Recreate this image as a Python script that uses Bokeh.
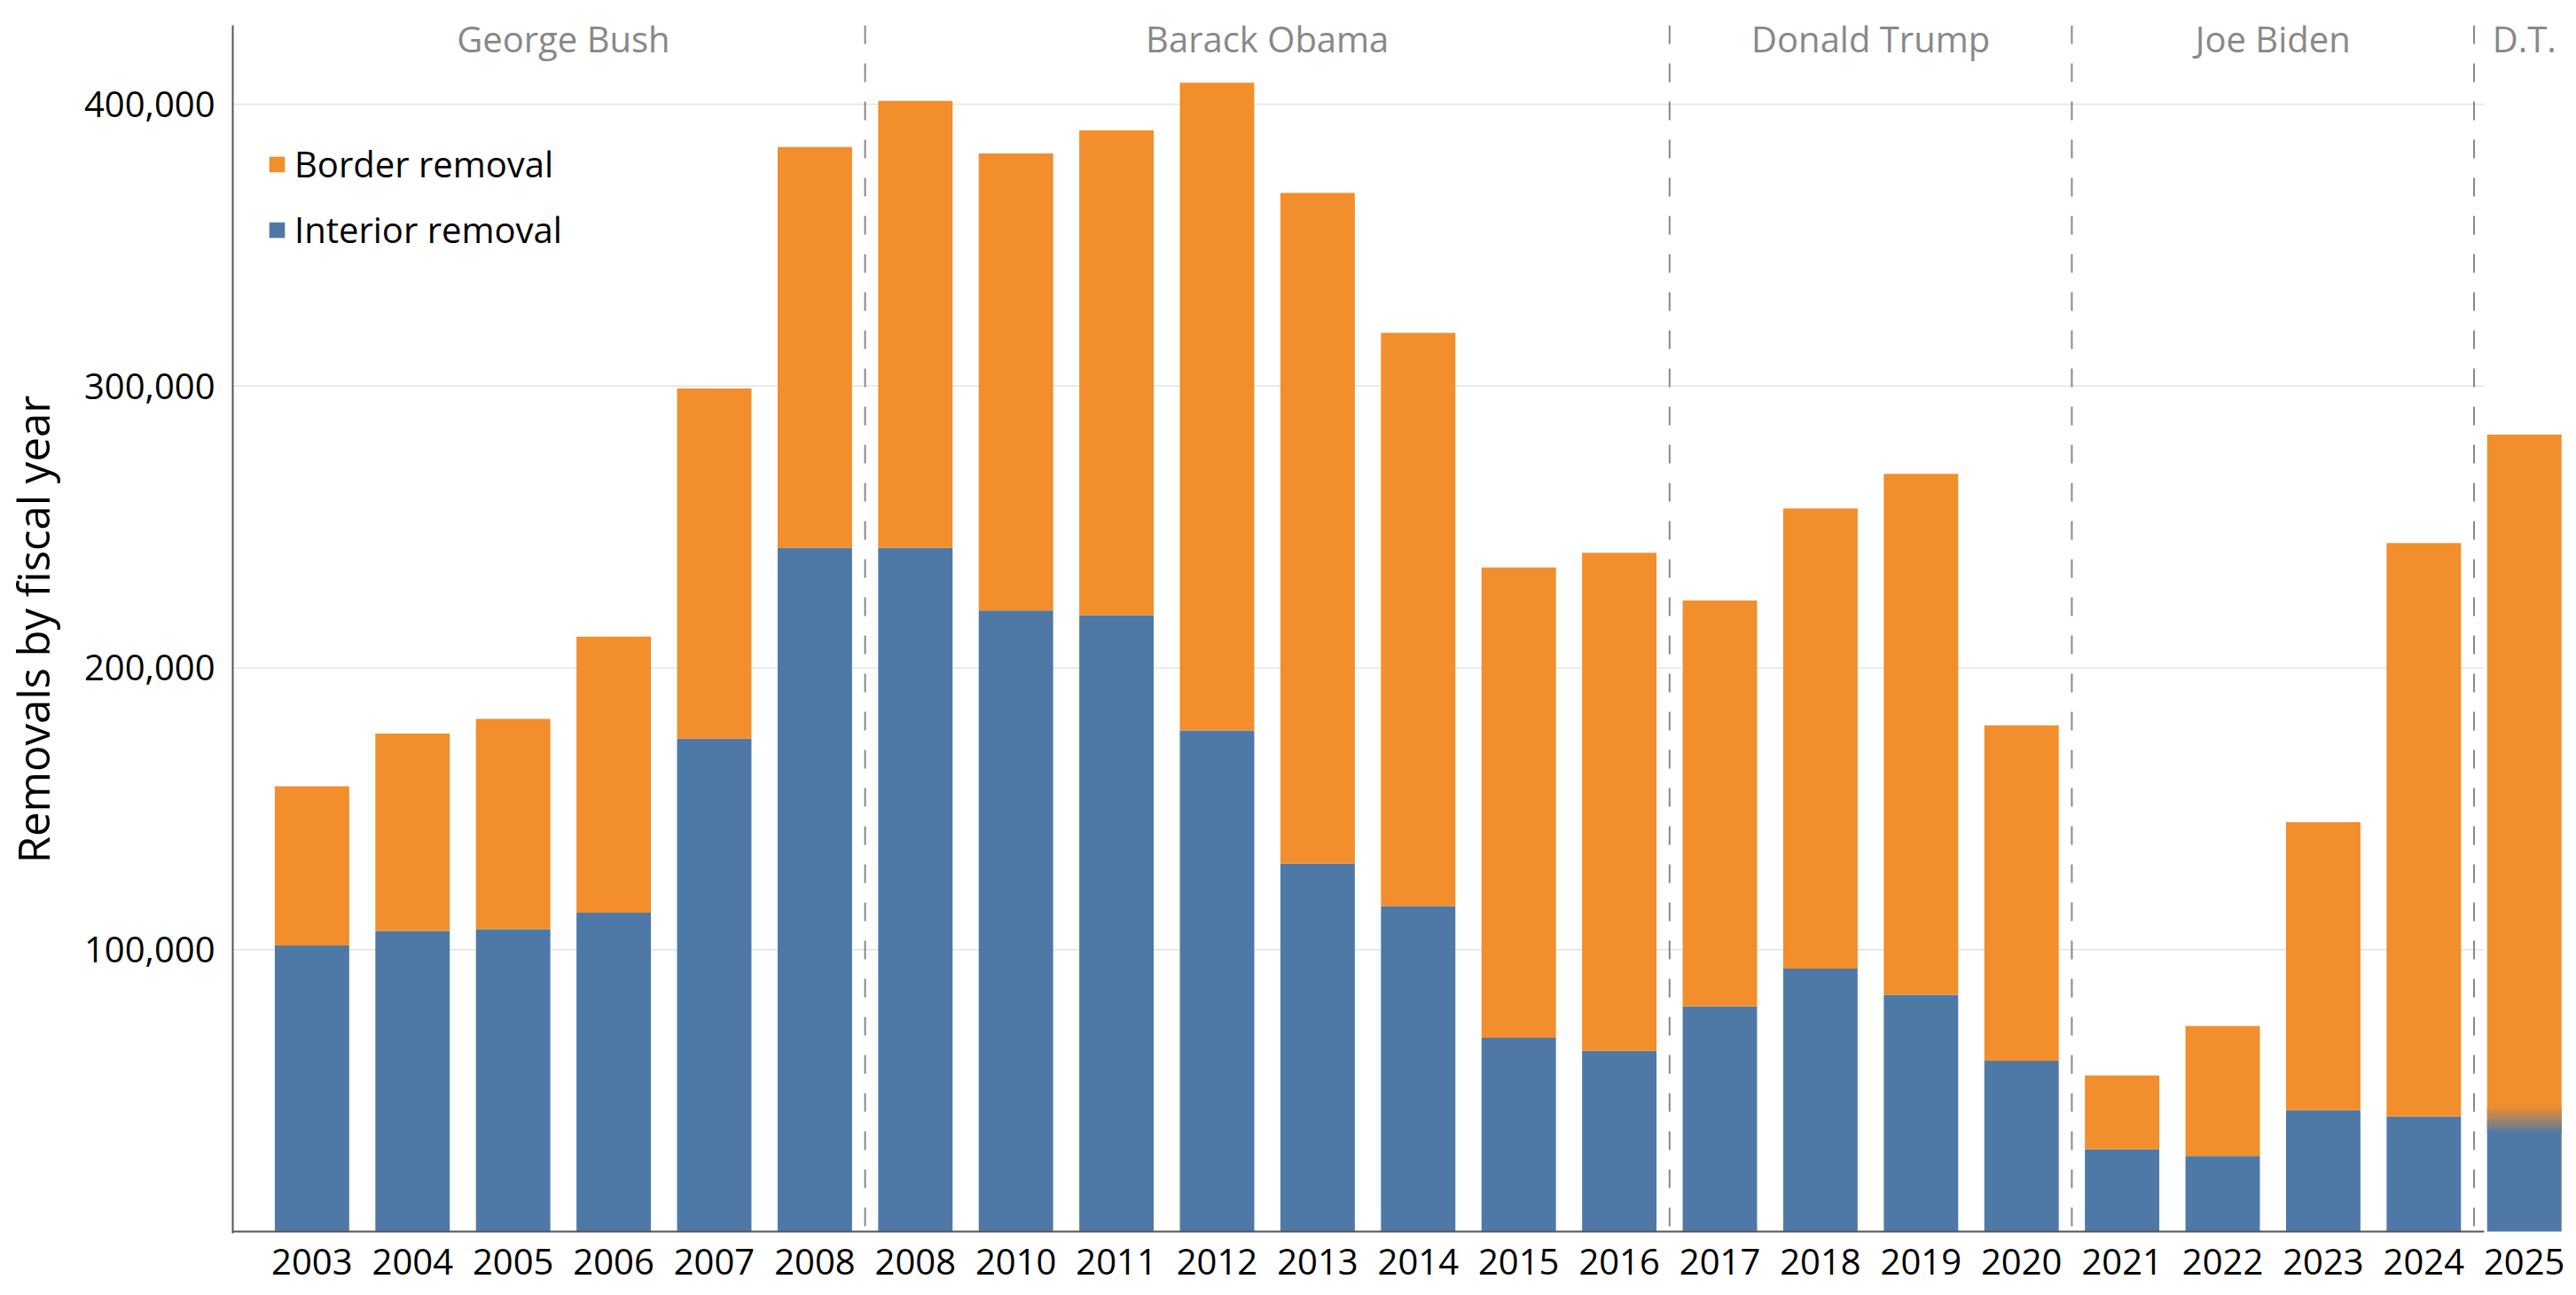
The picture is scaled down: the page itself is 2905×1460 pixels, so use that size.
from bokeh.plotting import figure
from bokeh.models import (FixedTicker, NumeralTickFormatter, Span, Legend, LegendItem,
                          ColumnDataSource, LabelSet, Range1d)
from bokeh.core.properties import value
from bokeh.embed import file_html
from bokeh.resources import INLINE

# ---- data ----
years = ["2003", "2004", "2005", "2006", "2007", "2008", "2008", "2010", "2011", "2012",
         "2013", "2014", "2015", "2016", "2017", "2018", "2019", "2020", "2021", "2022",
         "2023", "2024", "2025"]
interior = [101500, 106700, 107300, 113100, 174900, 242600, 242600, 220400, 218700, 177800,
            130600, 115500, 68800, 64100, 79900, 93300, 84000, 60600, 29200, 26800,
            43100, 40800, 39700]
border = [56500, 70000, 74600, 98000, 124200, 142200, 158600, 162100, 172000, 229800,
          237900, 203400, 166800, 176700, 144000, 163300, 184800, 119000, 26200, 46100,
          102100, 203500, 243100]
presidents = ["George Bush", "Barack Obama", "Donald Trump", "Joe Biden", "D.T."]
term_bars = [6, 8, 4, 4, 1]
y_ticks = [100000, 200000, 300000, 400000]

BLUE = "#4e79a7"
ORANGE = "#f28e2b"
FONT = "Open Sans"

n = len(years)
xs = list(range(n))
total = [a + b for a, b in zip(interior, border)]

X0, X1 = -0.788, 22.518
Y0, Y1 = -629, 428000

p = figure(width=2905, height=1460, x_range=Range1d(X0, X1), y_range=Range1d(Y0, Y1),
           output_backend="svg", toolbar_location=None,
           min_border_left=257, min_border_right=0, min_border_top=28, min_border_bottom=70)
p.outline_line_color = None
p.xgrid.visible = False
p.ygrid.visible = False

# group separators
bounds = []
acc = 0
for t in term_bars[:-1]:
    acc += t
    bounds.append(acc - 0.5)
grid_end = bounds[-1] + 0.1

# horizontal grid lines (stop at the last separator)
p.segment(x0=[X0] * len(y_ticks), y0=y_ticks, x1=[grid_end] * len(y_ticks), y1=y_ticks,
          line_color="#e4e4e4", line_width=1.5)

src = ColumnDataSource(dict(x=xs, interior=interior, total=total))
r_int = p.vbar(x="x", bottom=0, top="interior", width=0.74, fill_color=BLUE,
               line_color=None, source=src)
r_bor = p.vbar(x="x", bottom="interior", top="total", width=0.74, fill_color=ORANGE,
               line_color=None, source=src)

# blurred boundary on the last bar (uncertain split)
def blend(c1, c2, t):
    a = [int(c1[i:i + 2], 16) for i in (1, 3, 5)]
    b = [int(c2[i:i + 2], 16) for i in (1, 3, 5)]
    return "#%02x%02x%02x" % tuple(round(a[k] + (b[k] - a[k]) * t) for k in range(3))

last = n - 1
band = 4800
ns = 20
step = 2 * band / ns
bots = [interior[last] - band + k * step for k in range(ns)]
tops = [b + step * 1.3 for b in bots]
cols = [blend(BLUE, ORANGE, (k + 0.5) / ns) for k in range(ns)]
p.vbar(x=[last] * ns, bottom=bots, top=tops, width=0.74, fill_color=cols, line_color=None)

# baseline (stops at last separator)
p.segment(x0=[X0], y0=[0], x1=[grid_end], y1=[0], line_color="#555555", line_width=2)

for b in bounds:
    p.add_layout(Span(location=b, dimension="height", line_color="#888888",
                      line_width=2, line_dash="21 22"))

# president labels
centers = []
start = 0
for t in term_bars:
    centers.append((start + start + t - 1) / 2)
    start += t
lab_src = ColumnDataSource(dict(x=centers, y=[Y1] * len(centers), text=presidents))
p.add_layout(LabelSet(x="x", y="y", text="text", source=lab_src, text_align="center",
                      text_baseline="middle", y_offset=-15, text_font=value(FONT),
                      text_font_size=value("40px"), text_color=value("#888888")))

# axes
xa = p.xaxis[0]
xa.ticker = FixedTicker(ticks=xs)
xa.major_label_overrides = {i: y for i, y in enumerate(years)}
xa.axis_line_color = None
xa.major_tick_line_color = None
xa.minor_tick_line_color = None
xa.major_label_text_font = FONT
xa.major_label_text_font_size = "40px"
xa.major_label_text_color = "black"
xa.major_label_standoff = 11

ya = p.yaxis[0]
ya.ticker = FixedTicker(ticks=y_ticks)
ya.formatter = NumeralTickFormatter(format="0,0")
ya.axis_line_color = "#555555"
ya.axis_line_width = 2
ya.major_tick_line_color = None
ya.minor_tick_line_color = None
ya.major_label_text_font = FONT
ya.major_label_text_font_size = "40px"
ya.major_label_text_color = "black"
ya.major_label_standoff = 14
ya.axis_label = "Removals by fiscal year"
ya.axis_label_text_font = FONT
ya.axis_label_text_font_size = "49px"
ya.axis_label_text_font_style = "normal"
ya.axis_label_text_color = "black"
ya.axis_label_standoff = 22

legend = Legend(items=[LegendItem(label="Border removal", renderers=[r_bor]),
                       LegendItem(label="Interior removal", renderers=[r_int])],
                location=(39, 1104), orientation="vertical", glyph_width=22, glyph_height=22,
                label_text_font=FONT, label_text_font_size="40px", label_text_color="black",
                label_standoff=9, spacing=19, padding=0, margin=0,
                background_fill_alpha=0, border_line_color=None)
p.add_layout(legend)

open("out.html", "w").write(file_html(p, INLINE))
